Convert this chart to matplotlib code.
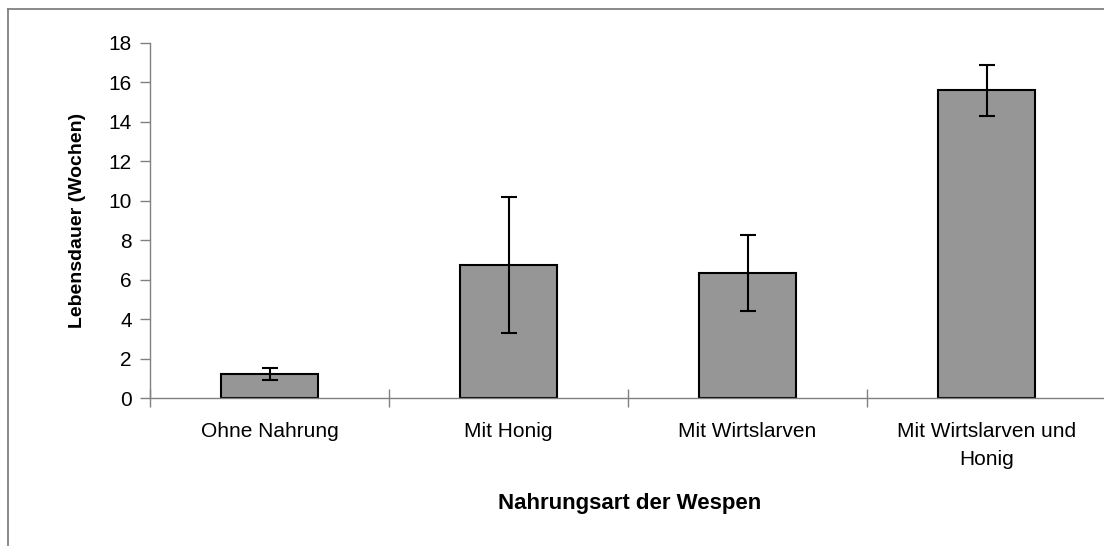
import matplotlib
matplotlib.use("Agg")
import matplotlib.pyplot as plt
from matplotlib.lines import Line2D

# Lebensdauer von Wespen je Nahrungsart (Mittelwert +/- Fehler, Wochen)
categories = ["Ohne Nahrung", "Mit Honig", "Mit Wirtslarven", "Mit Wirtslarven und\nHonig"]
means = [1.2, 6.75, 6.35, 15.6]
errors = [0.31, 3.43, 1.93, 1.29]
y_ticks = [0, 2, 4, 6, 8, 10, 12, 14, 16, 18]

plt.rcParams["font.family"] = ["Liberation Sans", "DejaVu Sans"]

W, H = 1104, 546
fig = plt.figure(figsize=(W / 100, H / 100), dpi=100)
fig.patch.set_facecolor("white")

# plot area (runs past the right edge, like the cropped original)
left, right, bottom, top = 150, 1106, 398, 43
ax = fig.add_axes([left / W, 1 - bottom / H, (right - left) / W, (bottom - top) / H])

x = list(range(len(categories)))
ax.bar(x, means, width=0.41, color="#969696", edgecolor="black", linewidth=1.5, zorder=2)
ax.errorbar(x, means, yerr=errors, fmt="none", ecolor="black", elinewidth=1.5,
            capsize=5.5, capthick=1.5, zorder=3)

ax.set_xlim(-0.5, len(categories) - 0.5)
ax.set_ylim(0, 18)
ax.set_yticks(y_ticks)
ax.set_yticklabels([str(v) for v in y_ticks], fontsize=15)

ax.set_xticks(x)
ax.set_xticklabels(categories, fontsize=15, linespacing=1.65)
ax.set_xticks([i - 0.5 for i in range(len(categories) + 1)], minor=True)
ax.tick_params(axis="x", which="major", length=0, pad=17)
ax.tick_params(axis="x", which="minor", direction="inout", length=13, width=1, color="#808080")
ax.tick_params(axis="y", direction="out", length=7, width=1, color="#808080", pad=6)

for side in ("top", "right"):
    ax.spines[side].set_visible(False)
for side in ("left", "bottom"):
    ax.spines[side].set_color("#808080")
    ax.spines[side].set_linewidth(1)

ax.set_ylabel("Lebensdauer (Wochen)", fontsize=14, fontweight="bold", va="center")
ax.yaxis.set_label_coords((78 - left) / (right - left), 0.5)
ax.set_xlabel("Nahrungsart der Wespen", fontsize=16, fontweight="bold", va="center")
ax.xaxis.set_label_coords((630 - left) / (right - left), -(504 - bottom) / (bottom - top))

# chart frame (only left/top edges visible in the crop)
fig.add_artist(Line2D([8 / W, 8 / W], [0, 1 - 9 / H], transform=fig.transFigure,
                      color="#808080", linewidth=1.3))
fig.add_artist(Line2D([8 / W, 1], [1 - 9 / H, 1 - 9 / H], transform=fig.transFigure,
                      color="#808080", linewidth=1.3))

fig.savefig("out.png", dpi=100, facecolor="white")
